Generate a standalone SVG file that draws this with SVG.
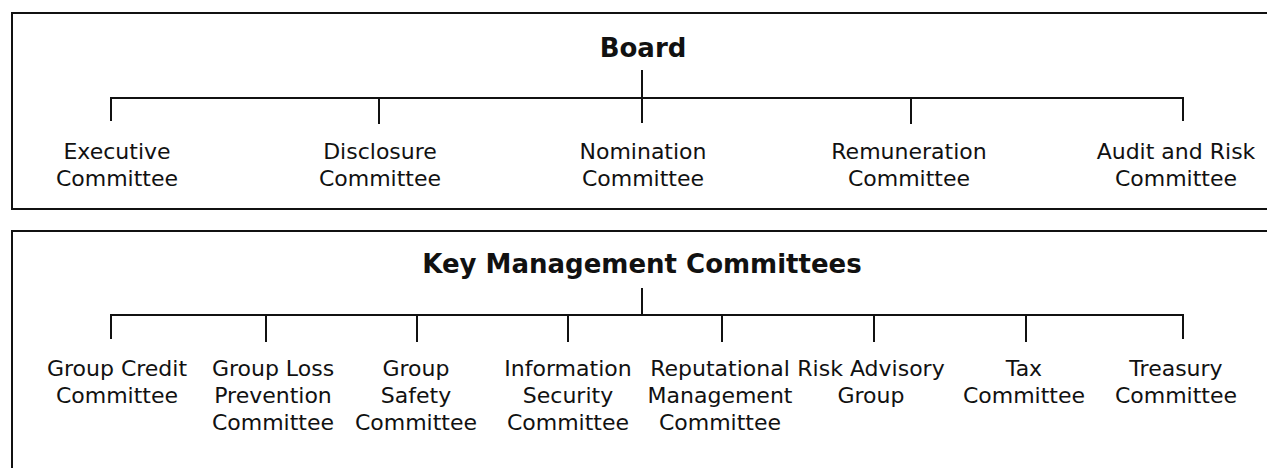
<svg xmlns="http://www.w3.org/2000/svg" width="1267" height="468" viewBox="0 0 1267 468">
<style>
.frame{fill:none;stroke:#111;stroke-width:2}
.conn line{stroke:#111;stroke-width:2}
.t{font-family:"DejaVu Sans",sans-serif;font-size:22px;fill:#111;text-anchor:middle}
.h{font-family:"DejaVu Sans",sans-serif;font-weight:bold;font-size:26px;fill:#111;text-anchor:middle}
</style>
<rect width="1267" height="468" fill="#fff"/>
<g id="frames">
<polyline class="frame" points="1268,13 12,13 12,209 1268,209"/>
<polyline class="frame" points="1268,231 12,231 12,470"/>
</g>
<g id="connectors" class="conn">
<line x1="642" y1="70" x2="642" y2="123"/>
<line x1="111" y1="98" x2="1183" y2="98"/>
<line x1="111" y1="97" x2="111" y2="121"/>
<line x1="379" y1="98" x2="379" y2="124"/>
<line x1="911" y1="98" x2="911" y2="124"/>
<line x1="1183" y1="97" x2="1183" y2="121"/>
<line x1="642" y1="288" x2="642" y2="315"/>
<line x1="111" y1="315" x2="1183" y2="315"/>
<line x1="111" y1="314" x2="111" y2="339"/>
<line x1="266" y1="315" x2="266" y2="342"/>
<line x1="417" y1="315" x2="417" y2="342"/>
<line x1="568" y1="315" x2="568" y2="342"/>
<line x1="722" y1="315" x2="722" y2="342"/>
<line x1="874" y1="315" x2="874" y2="342"/>
<line x1="1026" y1="315" x2="1026" y2="342"/>
<line x1="1183" y1="314" x2="1183" y2="339"/>
</g>
<g id="board"><text class="h" x="643" y="57">Board</text></g>
<g id="executive"><text class="t" x="117" y="159">Executive</text><text class="t" x="117" y="186">Committee</text></g>
<g id="disclosure"><text class="t" x="380" y="159">Disclosure</text><text class="t" x="380" y="186">Committee</text></g>
<g id="nomination"><text class="t" x="643" y="159">Nomination</text><text class="t" x="643" y="186">Committee</text></g>
<g id="remuneration"><text class="t" x="909" y="159">Remuneration</text><text class="t" x="909" y="186">Committee</text></g>
<g id="audit"><text class="t" x="1176" y="159">Audit and Risk</text><text class="t" x="1176" y="186">Committee</text></g>
<g id="kmc"><text class="h" x="642" y="273">Key Management Committees</text></g>
<g id="credit"><text class="t" x="117" y="376">Group Credit</text><text class="t" x="117" y="403">Committee</text></g>
<g id="loss"><text class="t" x="273" y="376">Group Loss</text><text class="t" x="273" y="403">Prevention</text><text class="t" x="273" y="430">Committee</text></g>
<g id="safety"><text class="t" x="416" y="376">Group</text><text class="t" x="416" y="403">Safety</text><text class="t" x="416" y="430">Committee</text></g>
<g id="infosec"><text class="t" x="568" y="376">Information</text><text class="t" x="568" y="403">Security</text><text class="t" x="568" y="430">Committee</text></g>
<g id="reputational"><text class="t" x="720" y="376">Reputational</text><text class="t" x="720" y="403">Management</text><text class="t" x="720" y="430">Committee</text></g>
<g id="riskadvisory"><text class="t" x="871" y="376">Risk Advisory</text><text class="t" x="871" y="403">Group</text></g>
<g id="tax"><text class="t" x="1024" y="376">Tax</text><text class="t" x="1024" y="403">Committee</text></g>
<g id="treasury"><text class="t" x="1176" y="376">Treasury</text><text class="t" x="1176" y="403">Committee</text></g>
</svg>
